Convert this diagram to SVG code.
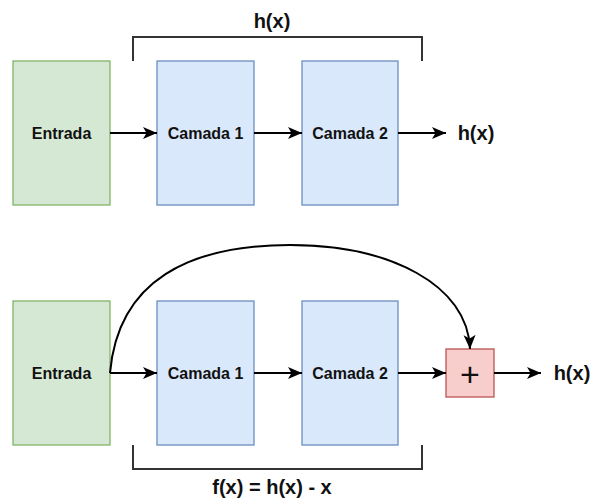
<svg xmlns="http://www.w3.org/2000/svg" width="593" height="500" viewBox="0 0 593 500">
  <style>
    .lbl { font-family: "Liberation Sans", Arial, sans-serif; font-weight: bold; fill: #111; text-anchor: middle; }
    .box { font-size: 16px; }
    .big { font-size: 20px; }
    .green { fill: #d5e8d4; stroke: #82b366; stroke-width: 1.3; }
    .blue { fill: #dae8fc; stroke: #6c8ebf; stroke-width: 1.3; }
    .red { fill: #f8cecc; stroke: #b85450; stroke-width: 1.3; }
    .edge { fill: none; stroke: #000; stroke-width: 2; }
    .bracket { fill: none; stroke: #333; stroke-width: 2; }
  </style>
  <defs>
    <marker id="arrow" markerUnits="userSpaceOnUse" markerWidth="15" markerHeight="13" refX="14" refY="6" orient="auto">
      <path d="M0,0 L14,6 L0,12 L3.5,6 Z" fill="#000"/>
    </marker>
  </defs>
  <rect width="593" height="500" fill="#fff"/>

  <!-- plain stack -->
  <g id="entrada-top">
    <rect class="green" x="13" y="61" width="97" height="144"/>
    <text class="lbl box" x="61.5" y="139">Entrada</text>
  </g>
  <g id="camada1-top">
    <rect class="blue" x="157" y="61" width="97" height="144"/>
    <text class="lbl box" x="205.5" y="139">Camada 1</text>
  </g>
  <g id="camada2-top">
    <rect class="blue" x="302" y="61" width="96" height="144"/>
    <text class="lbl box" x="350" y="139">Camada 2</text>
  </g>
  <g id="out-top">
    <text class="lbl big" x="476" y="140">h(x)</text>
  </g>
  <g id="bracket-top">
    <path class="bracket" d="M133,61 V37 H422 V61"/>
    <text class="lbl big" x="272" y="28">h(x)</text>
  </g>

  <!-- residual block -->
  <g id="entrada-bottom">
    <rect class="green" x="13" y="301" width="97" height="144"/>
    <text class="lbl box" x="61.5" y="379">Entrada</text>
  </g>
  <g id="camada1-bottom">
    <rect class="blue" x="157" y="301" width="97" height="144"/>
    <text class="lbl box" x="205.5" y="379">Camada 1</text>
  </g>
  <g id="camada2-bottom">
    <rect class="blue" x="302" y="301" width="96" height="144"/>
    <text class="lbl box" x="350" y="379">Camada 2</text>
  </g>
  <g id="soma">
    <rect class="red" x="446" y="349" width="48" height="48"/>
    <text x="470" y="386" font-family="'Liberation Sans', Arial, sans-serif" font-size="34" text-anchor="middle" fill="#111">+</text>
  </g>
  <g id="out-bottom">
    <text class="lbl big" x="572" y="380">h(x)</text>
  </g>
  <g id="bracket-bottom">
    <path class="bracket" d="M133,445 V469 H422 V445"/>
    <text class="lbl big" x="272" y="494">f(x) = h(x) - x</text>
  </g>

  <g id="connectors">
    <line class="edge" x1="110" y1="133" x2="157" y2="133" marker-end="url(#arrow)"/>
    <line class="edge" x1="254" y1="133" x2="302" y2="133" marker-end="url(#arrow)"/>
    <line class="edge" x1="398" y1="133" x2="446" y2="133" marker-end="url(#arrow)"/>
    <line class="edge" x1="110" y1="373" x2="157" y2="373" marker-end="url(#arrow)"/>
    <line class="edge" x1="254" y1="373" x2="302" y2="373" marker-end="url(#arrow)"/>
    <line class="edge" x1="398" y1="373" x2="446" y2="373" marker-end="url(#arrow)"/>
    <line class="edge" x1="494" y1="373" x2="541" y2="373" marker-end="url(#arrow)"/>
    <path class="edge" d="M110,373 C118,280 190,245 290,245 C390,245 468,285 470,349" marker-end="url(#arrow)"/>
  </g>
</svg>
